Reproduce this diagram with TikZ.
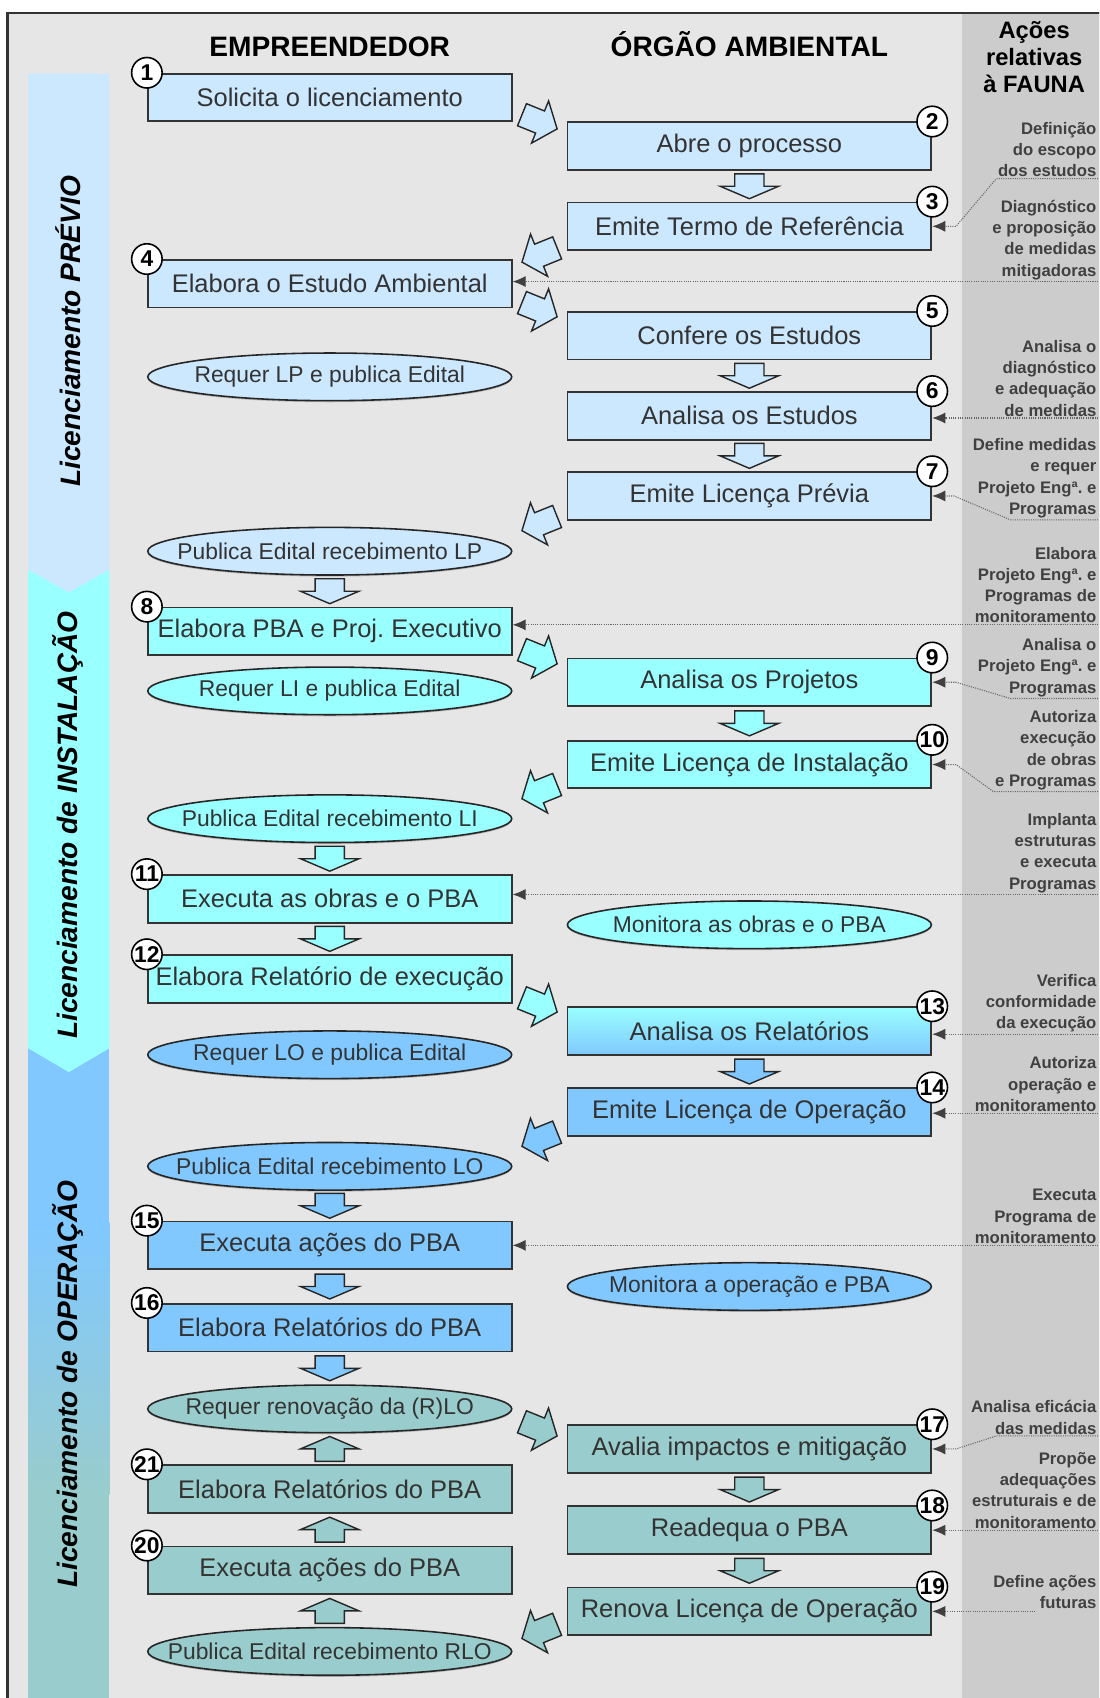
\documentclass[tikz,border=0pt]{standalone}
\usepackage{fontspec}
\setmainfont{Liberation Sans}
\usepackage{tikz}
\usetikzlibrary{arrows.meta,calc,shapes.geometric,shadows}

\definecolor{prevC}{HTML}{CCE8FF}
\definecolor{instC}{HTML}{99FFFF}
\definecolor{operC}{HTML}{80C8FF}
\definecolor{renoC}{HTML}{99CCCC}
\definecolor{paperC}{HTML}{E6E6E6}
\definecolor{faunaC}{HTML}{CCCCCC}
\definecolor{lineC}{HTML}{333333}
\definecolor{textC}{HTML}{333333}

% block arrows: position, angle, colour
\newcommand{\flowarrow}[3]{%
  \begin{scope}[shift={#1}, rotate=#2]
    \draw[arrowline, fill=#3] (-11.5,-13.5) -- (0,-13.5) -- (0,-27) -- (11.5,0) -- (0,27) -- (0,13.5) -- (-11.5,13.5) -- cycle;
  \end{scope}}
\newcommand{\crossarrow}[3]{%
  \begin{scope}[shift={#1}, rotate=#2]
    \draw[arrowline, fill=#3] (-17.5,-11) -- (0.5,-11) -- (0.5,-21) -- (17.5,0) -- (0.5,21) -- (0.5,11) -- (-17.5,11) -- cycle;
  \end{scope}}
\newcommand{\ovaltext}[1]{\makebox[0pt]{#1}}

\begin{document}
\begin{tikzpicture}[x=0.2166mm, y=-0.2166mm,
    stepbox/.style={draw=lineC, line width=1pt, minimum width=7.28cm, minimum height=0.953cm, inner sep=0pt, text=textC, font=\fontsize{14.5}{17}\selectfont},
    oval/.style={ellipse, draw=black!85, line width=0.9pt, minimum width=7.28cm, minimum height=0.953cm, inner sep=0pt, text=textC, font=\fontsize{13}{15}\selectfont, drop shadow={shadow xshift=0pt, shadow yshift=-0.9pt, opacity=0.45}},
    numc/.style={circle, draw=black, fill=white, line width=0.9pt, minimum size=6.1mm, inner sep=0pt, font=\bfseries\fontsize{13}{13}\selectfont},
    fauna/.style={align=right, anchor=south east, inner sep=0.8pt, text=black!75, font=\bfseries\fontsize{9.5}{12.1}\selectfont},
    faunaline/.style={draw=black!60, line width=0.6pt, dash pattern=on 0.6pt off 0.7pt, -{Latex[length=2.6mm,width=2.2mm,color=black!75]}},
    arrowline/.style={draw=black!85, line width=0.8pt, line join=miter},
    phase/.style={rotate=90, font=\bfseries\itshape\fontsize{16}{16}\selectfont},
    head/.style={anchor=base, font=\bfseries\fontsize{16}{16}\selectfont}]

    \useasboundingbox (0,0) rectangle (1015,1568);
    \clip (0,0) rectangle (1015,1568);
    \fill[white] (0,0) rectangle (1015,1568);
    \fill[paperC] (7,12) rectangle (1040,1600);
    \fill[faunaC] (888,12) rectangle (1040,1600);
    \draw[line width=1.3pt, black!80] (7,1600) -- (7,12) -- (1040,12);

    % phases
    \fill[renoC] (26,1379) rectangle (101,1600);
    \shade[top color=operC, bottom color=renoC] (26,1129) rectangle (101,1380);
    \fill[operC] (26,968) rectangle (101,1130);
    \fill[instC] (26,526) -- (101,526) -- (101,968) -- (63.5,990) -- (26,968) -- cycle;
    \fill[prevC] (26,68) -- (101,68) -- (101,526) -- (63.5,547) -- (26,526) -- cycle;
    \node[phase] (p1) at (63,306) {Licenciamento PRÉVIO};
    \node[phase] (p2) at (63,762) {Licenciamento de INSTALAÇÃO};
    \node[phase] (p3) at (63,1278) {Licenciamento de OPERAÇÃO};

    \node[head] (hE) at (304.5,52) {EMPREENDEDOR};
    \node[head] (hO) at (692,52) {ÓRGÃO AMBIENTAL};
    \node[align=center, font=\bfseries\fontsize{13.5}{15.4}\selectfont] (hF) at (955,53) {Ações\\relativas\\à FAUNA};

    % empreendedor
    \node[stepbox, fill=prevC] (b1) at (304.5,90) {Solicita o licenciamento};
    \node[stepbox, fill=prevC] (b4) at (304.5,262) {Elabora o Estudo Ambiental};
    \node[oval, fill=prevC] (e1) at (304.5,348) {\ovaltext{Requer LP e publica Edital}};
    \node[oval, fill=prevC] (e2) at (304.5,509) {\ovaltext{Publica Edital recebimento LP}};
    \node[stepbox, fill=instC] (b8) at (304.5,583) {Elabora PBA e Proj.\ Executivo};
    \node[oval, fill=instC] (e3) at (304.5,638) {\ovaltext{Requer LI e publica Edital}};
    \node[oval, fill=instC] (e4) at (304.5,756) {\ovaltext{Publica Edital recebimento LI}};
    \node[stepbox, fill=instC] (b11) at (304.5,830) {Executa as obras e o PBA};
    \node[stepbox, fill=instC] (b12) at (304.5,904) {Elabora Relatório de execução};
    \node[oval, fill=operC] (e5) at (304.5,974) {\ovaltext{Requer LO e publica Edital}};
    \node[oval, fill=operC] (e6) at (304.5,1077) {\ovaltext{Publica Edital recebimento LO}};
    \node[stepbox, fill=operC] (b15) at (304.5,1150) {Executa ações do PBA};
    \node[stepbox, fill=operC] (b16) at (304.5,1226) {Elabora Relatórios do PBA};
    \node[oval, fill=renoC] (e7) at (304.5,1301) {\ovaltext{Requer renovação da (R)LO}};
    \node[stepbox, fill=renoC] (b21) at (304.5,1375) {Elabora Relatórios do PBA};
    \node[stepbox, fill=renoC] (b20) at (304.5,1450) {Executa ações do PBA};
    \node[oval, fill=renoC] (e8) at (304.5,1525) {\ovaltext{Publica Edital recebimento RLO}};

    % orgao ambiental
    \node[stepbox, fill=prevC] (b2) at (692,135) {Abre o processo};
    \node[stepbox, fill=prevC] (b3) at (692,209) {Emite Termo de Referência};
    \node[stepbox, fill=prevC] (b5) at (692,310) {Confere os Estudos};
    \node[stepbox, fill=prevC] (b6) at (692,384) {Analisa os Estudos};
    \node[stepbox, fill=prevC] (b7) at (692,458) {Emite Licença Prévia};
    \node[stepbox, fill=instC] (b9) at (692,630) {Analisa os Projetos};
    \node[stepbox, fill=instC] (b10) at (692,706) {Emite Licença de Instalação};
    \node[oval, fill=instC] (e9) at (692,854) {\ovaltext{Monitora as obras e o PBA}};
    \node[stepbox, top color=instC, bottom color=operC] (b13) at (692,952) {Analisa os Relatórios};
    \node[stepbox, fill=operC] (b14) at (692,1027) {Emite Licença de Operação};
    \node[oval, fill=operC] (e10) at (692,1188) {\ovaltext{Monitora a operação e PBA}};
    \node[stepbox, fill=renoC] (b17) at (692,1338) {Avalia impactos e mitigação};
    \node[stepbox, fill=renoC] (b18) at (692,1413) {Readequa o PBA};
    \node[stepbox, fill=renoC] (b19) at (692,1488) {Renova Licença de Operação};

    \foreach \b/\n in {b1/1,b4/4,b8/8,b11/11,b12/12,b15/15,b16/16,b21/21,b20/20}
        \node[numc] (n\n) at (\b.north west) {\n};
    \foreach \b/\n in {b2/2,b3/3,b5/5,b6/6,b7/7,b9/9,b10/10,b13/13,b14/14,b17/17,b18/18,b19/19}
        \node[numc] (n\n) at (\b.north east) {\n};

    % flow between columns
    \crossarrow{($(b1.east)!.5!(b2.west)$)}{-22}{prevC}
    \crossarrow{($(b3.west)!.5!(b4.east)$)}{202}{prevC}
    \crossarrow{($(b4.east)!.5!(b5.west)$)}{-22}{prevC}
    \crossarrow{($(b7.west)!.5!(e2.east)$)}{202}{prevC}
    \crossarrow{($(b8.east)!.5!(b9.west)$)}{-22}{instC}
    \crossarrow{($(b10.west)!.5!(e4.east)$)}{202}{instC}
    \crossarrow{($(b12.east)!.5!(b13.west)$)}{-22}{instC}
    \crossarrow{($(b14.west)!.5!(e6.east)$)}{202}{operC}
    \crossarrow{($(e7.east)!.5!(b17.west)$)}{-22}{renoC}
    \crossarrow{($(b19.west)!.5!(e8.east)$)}{202}{renoC}

    % flow within columns
    \flowarrow{($(b2.south)!.5!(b3.north)$)}{-90}{prevC}
    \flowarrow{($(b5.south)!.5!(b6.north)$)}{-90}{prevC}
    \flowarrow{($(b6.south)!.5!(b7.north)$)}{-90}{prevC}
    \flowarrow{($(e2.south)!.5!(b8.north)$)}{-90}{prevC}
    \flowarrow{($(b9.south)!.5!(b10.north)$)}{-90}{instC}
    \flowarrow{($(e4.south)!.5!(b11.north)$)}{-90}{instC}
    \flowarrow{($(b11.south)!.5!(b12.north)$)}{-90}{instC}
    \flowarrow{($(b13.south)!.5!(b14.north)$)}{-90}{operC}
    \flowarrow{($(e6.south)!.5!(b15.north)$)}{-90}{operC}
    \flowarrow{($(b15.south)!.5!(b16.north)$)}{-90}{operC}
    \flowarrow{($(b16.south)!.5!(e7.north)$)}{-90}{operC}
    \flowarrow{($(b21.north)!.5!(e7.south)$)}{90}{renoC}
    \flowarrow{($(b20.north)!.5!(b21.south)$)}{90}{renoC}
    \flowarrow{($(e8.north)!.5!(b20.south)$)}{90}{renoC}
    \flowarrow{($(b17.south)!.5!(b18.north)$)}{-90}{renoC}
    \flowarrow{($(b18.south)!.5!(b19.north)$)}{-90}{renoC}

    % acoes relativas a fauna
    \node[fauna] (f1) at (1014,165) {Definição\\do escopo\\dos estudos};
    \node[fauna] (f2) at (1014,260) {Diagnóstico\\e proposição\\de medidas\\mitigadoras};
    \node[fauna] (f3) at (1014,386) {Analisa o\\diagnóstico\\e adequação\\de medidas};
    \node[fauna] (f4) at (1014,480) {Define medidas\\e requer\\Projeto Engª.\ e\\Programas};
    \node[fauna] (f5) at (1014,577) {Elabora\\Projeto Engª.\ e\\Programas de\\monitoramento};
    \node[fauna] (f6) at (1014,645) {Analisa o\\Projeto Engª.\ e\\Programas};
    \node[fauna] (f7) at (1014,731) {Autoriza\\execução\\de obras\\e Programas};
    \node[fauna] (f8) at (1014,826) {Implanta\\estruturas\\e executa\\Programas};
    \node[fauna] (f9) at (1014,955) {Verifica\\conformidade\\da execução};
    \node[fauna] (f10) at (1014,1028) {Autoriza\\operação e\\monitoramento};
    \node[fauna] (f11) at (1014,1150) {Executa\\Programa de\\monitoramento};
    \node[fauna] (f12) at (1014,1326) {Analisa eficácia\\das medidas};
    \node[fauna] (f13) at (1014,1413) {Propõe\\adequações\\estruturais e de\\monitoramento};
    \node[fauna] (f14) at (1014,1487) {Define ações\\futuras};
    \coordinate (c14) at (956,1488);

    \draw[faunaline] (f1.south east) -- (f1.south west) -- ($(b3.east)+(22,0)$) -- (b3.east);
    \draw[faunaline] (f2.south east) -- (f2.south -| b4.east);
    \draw[faunaline] (f3.south east) -- (f3.south -| b6.east);
    \draw[faunaline] (f4.south east) -- ++(-81,0) -- ($(b7.east)+(20,0)$) -- (b7.east);
    \draw[faunaline] (f5.south east) -- (f5.south -| b8.east);
    \draw[faunaline] (f6.south east) -- ++(-81,0) -- ($(b9.east)+(22,0)$) -- (b9.east);
    \draw[faunaline] (f7.south east) -- (f7.south west) -- ($(b10.east)+(22,0)$) -- (b10.east);
    \draw[faunaline] (f8.south east) -- (f8.south -| b11.east);
    \draw[faunaline] (f9.south east) -- (f9.south -| b13.east);
    \draw[faunaline] (f10.south east) -- (f10.south -| b14.east);
    \draw[faunaline] (f11.south east) -- (f11.south -| b15.east);
    \draw[faunaline] (f12.south east) -- ++(-94,0) -- ($(b17.east)+(22,0)$) -- (b17.east);
    \draw[faunaline] (f13.south east) -- (f13.south -| b18.east);
    \draw[faunaline] (c14) -- (b19.east);
\end{tikzpicture}
\end{document}
